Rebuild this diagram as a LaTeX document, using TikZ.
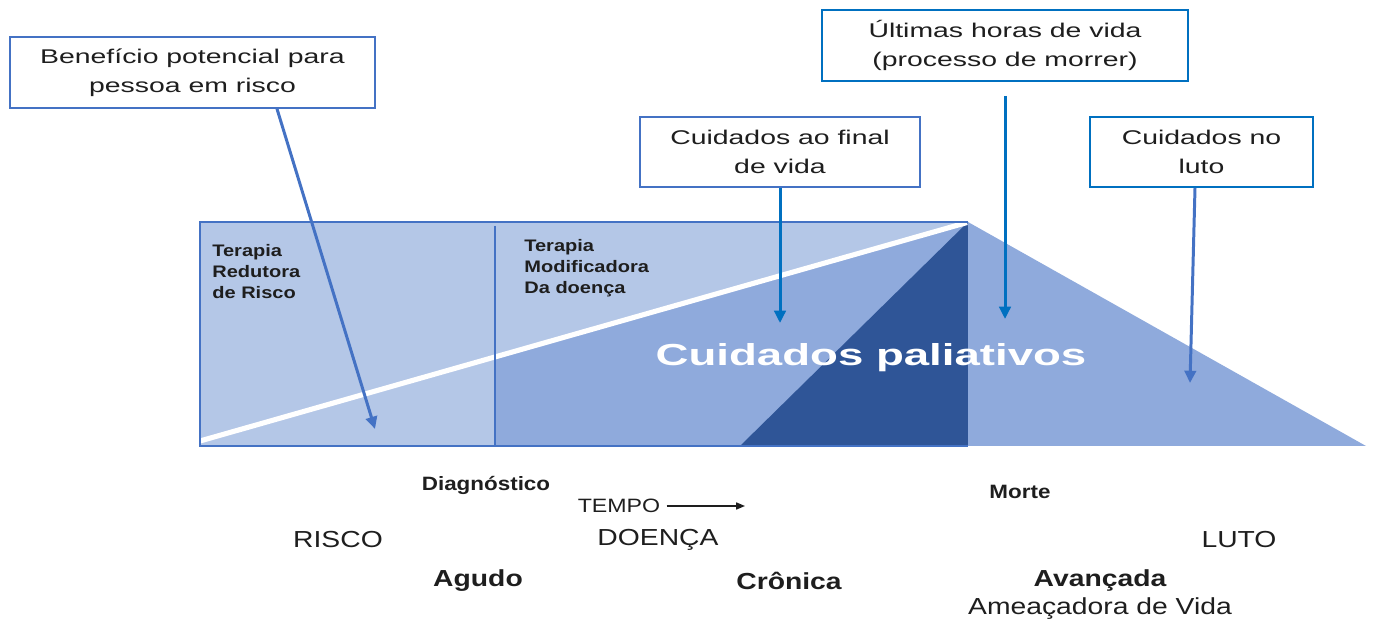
\documentclass[tikz,border=0pt]{standalone}
\usepackage{fontspec}
\setmainfont{Liberation Sans}
\newfontfamily\fBoxT[FakeStretch=1.43]{Liberation Sans}
\newfontfamily\fBigT[FakeStretch=1.5]{Liberation Sans}
\newfontfamily\fTerT[FakeStretch=1.2]{Liberation Sans}
\newfontfamily\fMidT[FakeStretch=1.16]{Liberation Sans}
\newfontfamily\fLowT[FakeStretch=1.22]{Liberation Sans}
\usetikzlibrary{arrows.meta,calc}
\definecolor{lightb}{HTML}{B4C7E7}
\definecolor{midb}{HTML}{8FAADC}
\definecolor{darkb}{HTML}{2F5597}
\definecolor{edgeb}{HTML}{4472C4}
\definecolor{brightb}{HTML}{0070C0}
\definecolor{ink}{HTML}{1E1E1E}
\tikzset{
  callbox/.style={draw=#1, line width=1pt, fill=white, align=center, text=ink,
    font=\fBoxT\fontsize{11.3}{16.4}\selectfont, inner sep=0pt},
  callarrow/.style={draw=#1, line width=1.7pt, -{Triangle[length=7pt,width=6.5pt]}},
  terlabel/.style={align=left, text=ink, inner sep=0pt, anchor=north west,
    font=\fTerT\bfseries\fontsize{9.5}{11.9}\selectfont},
  midlabel/.style={text=ink, inner sep=0pt, font=\fMidT\bfseries\fontsize{11}{13}\selectfont},
  lowlabel/.style={text=ink, inner sep=0pt, font=\fLowT\fontsize{13.2}{15}\selectfont},
  lowbold/.style={text=ink, inner sep=0pt, font=\fLowT\bfseries\fontsize{13.2}{15}\selectfont},
}
\begin{document}
\begin{tikzpicture}[x=0.02cm,y=-0.02cm]
\useasboundingbox (0,0) rectangle (1373,624);
% areas
\fill[lightb] (200,222) rectangle (968,446);
\fill[midb] (495,357) -- (968,222) -- (968,446) -- (495,446) -- cycle;
\fill[darkb] (740,446) -- (968,222) -- (968,446) -- cycle;
\fill[midb] (968,222) -- (1366,446) -- (968,446) -- cycle;
\draw[white, line width=2.9pt] (200,441) -- (967,222.5);
\draw[edgeb, line width=0.9pt] (968,222) -- (200,222) -- (200,446) -- (968,446);
\draw[edgeb, line width=0.9pt] (495,226) -- (495,446);
% inner labels
\node[terlabel] (ter1) at (212,244) {Terapia\\Redutora\\de Risco};
\node[terlabel] (ter2) at (524,239) {Terapia\\Modificadora\\Da doença};
\node[text=white, inner sep=0pt, font=\fBigT\bfseries\fontsize{17.3}{20}\selectfont] (cp) at (871,358) {Cuidados paliativos};
% callout boxes
\node[callbox=edgeb, minimum width=7.3cm, minimum height=1.42cm] (ben) at (192.5,72.5) {Benefício potencial para\\pessoa em risco};
\node[callbox=edgeb, minimum width=5.6cm, minimum height=1.4cm] (fin) at (780,152) {Cuidados ao final\\de vida};
\node[callbox=brightb, minimum width=7.32cm, minimum height=1.42cm] (ult) at (1005,45.5) {Últimas horas de vida\\(processo de morrer)};
\node[callbox=brightb, minimum width=4.46cm, minimum height=1.4cm] (luto) at (1201.5,152) {Cuidados no\\luto};
% arrow ends
\coordinate (e1) at (375,429);
\coordinate (e2) at (780,323);
\coordinate (e3) at (1005,319);
\coordinate (e4) at (1190,383);
\draw[callarrow=edgeb] ($(ben.south)+(84.5,0)$) -- (e1);
\draw[callarrow=brightb] (fin.south) -- (e2);
\draw[callarrow=brightb] ($(ult.south)+(0,14)$) -- (e3);
\draw[callarrow=edgeb] ($(luto.south)+(-6.5,0)$) -- (e4);
% bottom labels
\node[midlabel] (diag) at (486,485) {Diagnóstico};
\node[midlabel] (morte) at (1020,492) {Morte};
\node[text=ink, inner sep=0pt, font=\fTerT\fontsize{11}{13}\selectfont] (tempo) at (619,506) {TEMPO};
\coordinate (tarrow) at (745,506);
\draw[ink, line width=0.8pt, -{Triangle[length=5pt,width=4pt]}] ($(tempo.east)+(6,0)$) -- (tarrow);
\node[lowlabel] (risco) at (338,540) {RISCO};
\node[lowlabel] (doenca) at (658,540) {DOENÇA};
\node[lowlabel] (luto2) at (1239,540) {LUTO};
\node[lowbold] (agudo) at (478,581) {Agudo};
\node[lowbold] (cronica) at (789,581) {Crônica};
\node[lowbold] (avanc) at (1100,581) {Avançada};
\node[lowlabel] (ameac) at (1100,609) {Ameaçadora de Vida};
\end{tikzpicture}
\end{document}
